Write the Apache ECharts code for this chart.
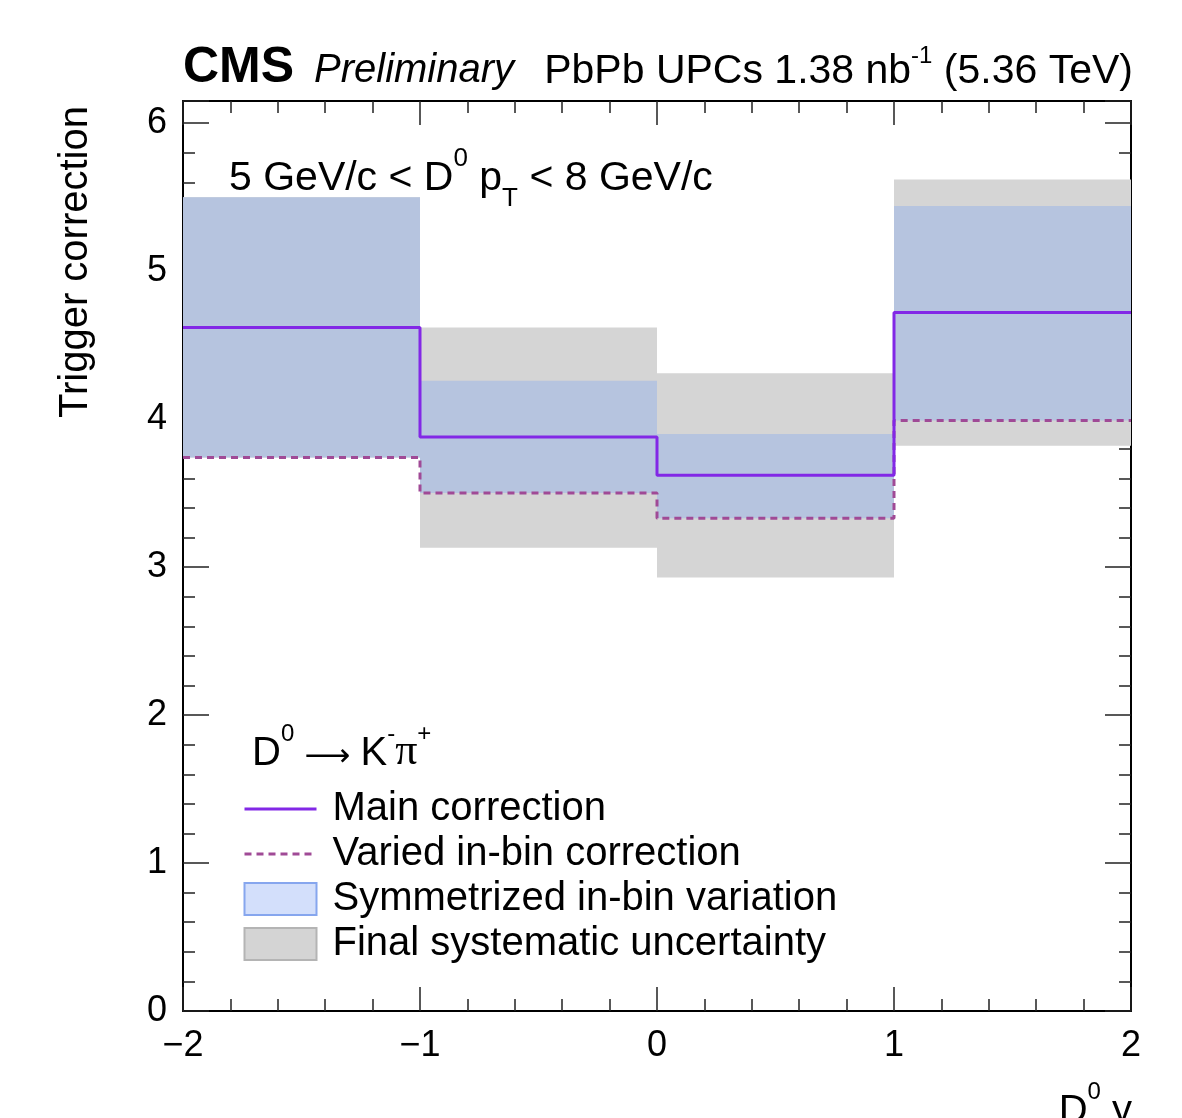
<!DOCTYPE html>
<html>
<head>
<meta charset="utf-8">
<script src="https://cdn.jsdelivr.net/npm/echarts@6/dist/echarts.min.js"></script>
<style>
html,body{margin:0;padding:0;background:#fff;}
#chart{width:1182px;height:1118px;}
</style>
</head>
<body>
<div id="chart"></div>
<script>
// ---- data ----
const binEdges   = [-2, -1, 0, 1, 2];
const mainCorr   = [4.62, 3.88, 3.62, 4.72];
const variedCorr = [3.74, 3.50, 3.33, 3.99];
const symLow     = [3.74, 3.50, 3.33, 3.99];
const symHigh    = [5.50, 4.26, 3.90, 5.44];
const systLow    = [3.74, 3.13, 2.93, 3.82];
const systHigh   = [5.50, 4.62, 4.31, 5.62];
const xTicks     = [-2, -1, 0, 1, 2];
const yTicks     = [0, 1, 2, 3, 4, 5, 6];

const FONT = 'Liberation Sans';

function stepData(vals) {
  const d = vals.map((v, i) => [binEdges[i], v]);
  d.push([binEdges[binEdges.length - 1], vals[vals.length - 1]]);
  return d;
}
function bandData(lo, hi) {
  return lo.map((l, i) => [binEdges[i], binEdges[i + 1], l, hi[i]]);
}
function rectRenderer(color) {
  return function (params, api) {
    const p0 = api.coord([api.value(0), api.value(3)]);
    const p1 = api.coord([api.value(1), api.value(2)]);
    return {
      type: 'rect',
      shape: { x: p0[0], y: p0[1], width: p1[0] - p0[0], height: p1[1] - p0[1] },
      style: { fill: color }
    };
  };
}
const fmtX = v => xTicks.indexOf(v) >= 0 ? String(v).replace('-', '\u2212') : '';
const fmtY = v => yTicks.indexOf(v) >= 0 ? String(v) : '';

const gridRect = { left: 183, right: 51, top: 101, bottom: 107 };
const axisLineStyle = { color: '#000', width: 2 };
const tickStyle = { color: '#222', width: 1.5 };

function xAx(gridIndex, position, interval, len, labels, line) {
  return {
    type: 'value', gridIndex, position, min: -2, max: 2, interval,
    axisLine: { show: line, onZero: false, lineStyle: axisLineStyle },
    axisTick: { show: true, inside: true, length: len, lineStyle: tickStyle },
    axisLabel: { show: labels, formatter: fmtX, fontFamily: FONT, fontSize: 36, color: '#000', margin: 17 },
    splitLine: { show: false }
  };
}
function yAx(gridIndex, position, interval, len, labels, line) {
  return {
    type: 'value', gridIndex, position, min: 0, max: 6.15, interval,
    axisLine: { show: line, onZero: false, lineStyle: axisLineStyle },
    axisTick: { show: true, inside: true, length: len, lineStyle: tickStyle },
    axisLabel: { show: labels, formatter: fmtY, fontFamily: FONT, fontSize: 36, color: '#000', margin: 16,
                 padding: [6, 0, 0, 0] },
    splitLine: { show: false }
  };
}
const noSymbol = { color: 'rgba(0,0,0,0)', borderColor: 'rgba(0,0,0,0)', borderWidth: 0, opacity: 0 };

const chart = echarts.init(document.getElementById('chart'), null, { renderer: 'canvas' });
chart.setOption({
  animation: false,
  backgroundColor: '#fff',
  grid: [Object.assign({}, gridRect), Object.assign({}, gridRect)],
  xAxis: [
    xAx(0, 'bottom', 1, 24, true, true),
    xAx(0, 'top', 1, 24, false, true),
    xAx(1, 'bottom', 0.2, 12, false, false),
    xAx(1, 'top', 0.2, 12, false, false)
  ],
  yAxis: [
    yAx(0, 'left', 1, 26, true, true),
    yAx(0, 'right', 1, 26, false, true),
    yAx(1, 'left', 0.2, 12, false, false),
    yAx(1, 'right', 0.2, 12, false, false)
  ],
  legend: {
    orient: 'vertical', left: 243, top: 789, padding: 0,
    itemWidth: 72, itemHeight: 32, itemGap: 5,
    selectedMode: false,
    textStyle: { fontFamily: FONT, fontSize: 40, lineHeight: 40, color: '#000', padding: [0, 0, 0, 11] },
    data: [
      { name: 'Main correction', itemStyle: noSymbol,
        lineStyle: { color: '#8228e6', width: 3, type: 'solid' } },
      { name: 'Varied in-bin correction', itemStyle: noSymbol,
        lineStyle: { color: '#a04a96', width: 3, type: [7, 5] } },
      { name: 'Symmetrized in-bin variation', icon: 'rect',
        itemStyle: { color: '#d3dffb', borderColor: '#86a6ee', borderWidth: 2 } },
      { name: 'Final systematic uncertainty', icon: 'rect',
        itemStyle: { color: '#d4d4d4', borderColor: '#b4b4b4', borderWidth: 2 } }
    ]
  },
  series: [
    {
      name: 'Final systematic uncertainty', type: 'custom', xAxisIndex: 0, yAxisIndex: 0,
      renderItem: rectRenderer('#d5d5d5'), itemStyle: { color: '#d5d5d5' },
      encode: { x: [0, 1], y: [2, 3] }, data: bandData(systLow, systHigh), z: 1
    },
    {
      name: 'Symmetrized in-bin variation', type: 'custom', xAxisIndex: 0, yAxisIndex: 0,
      renderItem: rectRenderer('#b6c4df'), itemStyle: { color: '#b6c4df' },
      encode: { x: [0, 1], y: [2, 3] }, data: bandData(symLow, symHigh), z: 2
    },
    {
      name: 'Varied in-bin correction', type: 'line', xAxisIndex: 0, yAxisIndex: 0,
      step: 'end', symbol: 'none', data: stepData(variedCorr),
      lineStyle: { color: '#a04a96', width: 3, type: [7, 5] }, itemStyle: { color: '#a04a96' }, z: 3
    },
    {
      name: 'Main correction', type: 'line', xAxisIndex: 0, yAxisIndex: 0,
      step: 'end', symbol: 'none', data: stepData(mainCorr),
      lineStyle: { color: '#8228e6', width: 3 }, itemStyle: { color: '#8228e6' }, z: 4
    }
  ],
  graphic: [
    {
      type: 'text', left: 183, top: 43, z: 10,
      style: { text: 'CMS', fontFamily: FONT, fontSize: 50, fontWeight: 'bold', fill: '#000' }
    },
    {
      type: 'text', left: 314, top: 51, z: 10,
      style: { text: 'Preliminary', fontFamily: FONT, fontSize: 40, fontStyle: 'italic', fill: '#000' }
    },
    {
      type: 'text', right: 49, top: 44, z: 10,
      style: {
        text: '{n|PbPb UPCs 1.38 nb}{s|-1}{n| (5.36 TeV)}',
        rich: {
          n: { fontFamily: FONT, fontSize: 41, fill: '#000', verticalAlign: 'bottom', lineHeight: 48 },
          s: { fontFamily: FONT, fontSize: 24, fill: '#000', verticalAlign: 'top', lineHeight: 48 }
        }
      }
    },
    {
      type: 'text', left: 229, top: 146, z: 10,
      style: {
        text: '{n|5 GeV/c < D}{s|0}{n| p}{b|T}{n| < 8 GeV/c}',
        rich: {
          n: { fontFamily: FONT, fontSize: 41, fill: '#000', verticalAlign: 'middle', lineHeight: 66 },
          s: { fontFamily: FONT, fontSize: 26, fill: '#000', verticalAlign: 'top', lineHeight: 66 },
          b: { fontFamily: FONT, fontSize: 26, fill: '#000', verticalAlign: 'bottom', lineHeight: 66 }
        }
      }
    },
    {
      type: 'text', left: 252, top: 722, z: 10,
      style: {
        text: '{n|D}{s|0}{a| \u27f6 }{n|K}{s|-}{p|\u03c0}{s|+}',
        rich: {
          n: { fontFamily: FONT, fontSize: 40, fill: '#000', verticalAlign: 'bottom', lineHeight: 52 },
          a: { fontFamily: 'DejaVu Sans', fontSize: 32, fill: '#000', verticalAlign: 'bottom', lineHeight: 48 },
          p: { fontFamily: 'Liberation Serif', fontSize: 44, fill: '#000', verticalAlign: 'bottom', lineHeight: 52 },
          s: { fontFamily: FONT, fontSize: 24, fill: '#000', verticalAlign: 'top', lineHeight: 52 }
        }
      }
    },
    {
      type: 'text', x: 96, y: 418, rotation: Math.PI / 2, z: 10,
      style: {
        text: 'Trigger correction', fontFamily: FONT, fontSize: 40, fill: '#000',
        textAlign: 'left', textVerticalAlign: 'bottom'
      }
    },
    {
      type: 'text', right: 50, top: 1080, z: 10,
      style: {
        text: '{n|D}{s|0}{n| y}',
        rich: {
          n: { fontFamily: FONT, fontSize: 40, fill: '#000', verticalAlign: 'bottom', lineHeight: 52 },
          s: { fontFamily: FONT, fontSize: 24, fill: '#000', verticalAlign: 'top', lineHeight: 52 }
        }
      }
    }
  ]
});
</script>
</body>
</html>
